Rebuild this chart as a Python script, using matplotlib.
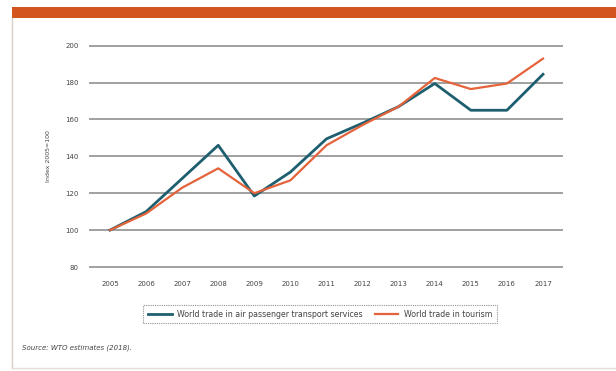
import matplotlib
matplotlib.use("Agg")
import matplotlib.pyplot as plt
from matplotlib.patches import Rectangle
from matplotlib.lines import Line2D

years = [2005, 2006, 2007, 2008, 2009, 2010, 2011, 2012, 2013, 2014, 2015, 2016, 2017]
air_passenger = [100, 110, 128, 146, 118.5, 131.5, 149.5, 158, 167, 179.5, 165, 165, 184.5]
tourism = [100, 109, 123, 133.5, 120, 127, 146, 157, 167, 182.5, 176.5, 179.5, 193]
yticks = [80, 100, 120, 140, 160, 180, 200]
series_labels = ["World trade in air passenger transport services", "World trade in tourism"]
ylabel = "Index 2005=100"
source = "Source: WTO estimates (2018)."

W, H = 616, 371
fig = plt.figure(figsize=(W / 100, H / 100), dpi=100)
fig.patch.set_facecolor("white")

# orange band at top and frame lines
fig.add_artist(Rectangle((12 / W, 1 - 18 / H), 1 - 12 / W, 11 / H,
                         transform=fig.transFigure, color="#d4541f", lw=0))
fig.add_artist(Line2D([12 / W, 12 / W], [1 - 18 / H, 1 - 368 / H],
                      transform=fig.transFigure, color="#d9cfc8", lw=1))
fig.add_artist(Line2D([12 / W, 1], [1 - 368 / H, 1 - 368 / H],
                      transform=fig.transFigure, color="#e6ddd6", lw=1))

ax = fig.add_axes([90 / W, 1 - 267 / H, (562 - 90) / W, (267 - 45.7) / H])
ax.plot(years, air_passenger, color="#1e5f6f", lw=2.0, label=series_labels[0], zorder=3)
ax.plot(years, tourism, color="#e5633b", lw=1.6, label=series_labels[1], zorder=3)

ax.set_xlim(2005 - 20 / 36.1, 2017 + 19 / 36.1)
ax.set_ylim(80, 200)
ax.set_yticks(yticks)
ax.set_xticks(years)
ax.set_xticklabels([str(y) for y in years])
ax.yaxis.grid(True, color="#a0a0a0", lw=1.4)
for gl in ax.get_ygridlines():
    gl.set_clip_on(False)
ax.set_axisbelow(True)
for s in ax.spines.values():
    s.set_visible(False)
ax.tick_params(axis="both", length=0, labelsize=5, colors="#444444")
ax.tick_params(axis="y", pad=8)
ax.tick_params(axis="x", pad=10)
ax.set_ylabel(ylabel, fontsize=4.5, color="#444444", labelpad=10)

leg = ax.legend(loc="upper center", bbox_to_anchor=(0.5 - 6 / 472, -0.155), ncol=2, fontsize=5.7,
                frameon=True, fancybox=False, handlelength=3.0, columnspacing=1.5,
                borderpad=0.55, handletextpad=0.7, labelcolor="#444444")
leg.get_frame().set_edgecolor("#777777")
leg.get_frame().set_linewidth(0.8)
leg.get_frame().set_linestyle((0, (1, 1)))

fig.text(22 / W, 1 - 348 / H, source, fontsize=5, color="#444444", style="italic",
         va="center", ha="left")

fig.savefig("out.png", dpi=100)
